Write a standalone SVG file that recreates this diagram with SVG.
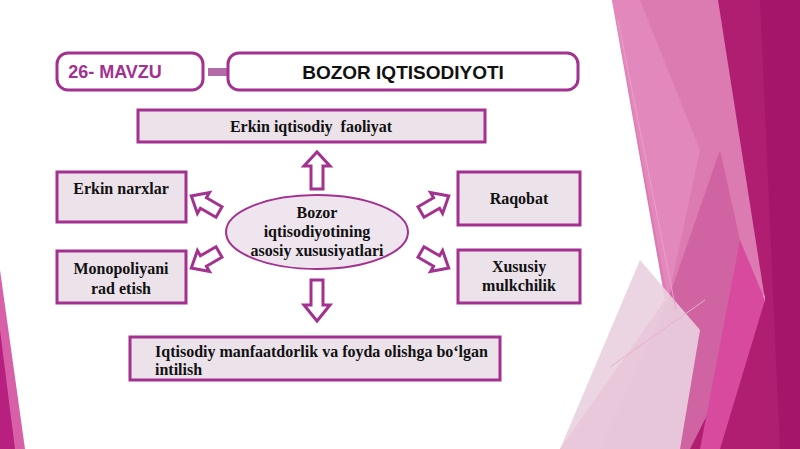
<svg xmlns="http://www.w3.org/2000/svg" width="800" height="449" viewBox="0 0 800 449">
<style>
.box{fill:#ece2ea;stroke:#a2318f;stroke-width:3}
.hdr{fill:#fff;stroke:#a2318f;stroke-width:3}
.t{font-family:'Liberation Serif','Times New Roman',serif;font-weight:bold;font-size:16px;fill:#111}
.ar{fill:#fff;stroke:#a2318f;stroke-width:3;stroke-linejoin:miter}
</style>
<rect width="800" height="449" fill="#fff"/>
<g id="decor">
<polygon points="612,0 720,0 770,280 700,449 560,449 665,300" fill="#dc7ab2"/>
<polygon points="612,0 640,0 700,150 668,300" fill="#e48cbe" opacity="0.8"/>
<polygon points="668,300 720,150 760,330 700,449 600,449" fill="#d064a2"/>
<polygon points="640,260 700,330 680,449 560,449" fill="#ead0e0" opacity="0.9"/>
<polygon points="718,0 800,0 800,449 690,449 765,300" fill="#b01e72"/>
<polygon points="760,0 800,0 800,449 780,449" fill="#a5156a"/>
<polygon points="740,240 765,300 720,449 700,449" fill="#d84a9e"/>
<line x1="618" y1="20" x2="676" y2="310" stroke="#e8a0c8" stroke-width="1"/>
<line x1="610" y1="367" x2="705" y2="300" stroke="#e8b0c8" stroke-width="1"/>
<polygon points="0,270 25,449 0,449" fill="#d860a8"/>
<polygon points="0,330 15,449 0,449" fill="#b82080"/>
</g>
<g id="header">
<rect x="208" y="68" width="22" height="8" fill="#b46aa6"/>
<rect x="57" y="53" width="146" height="37" rx="11" class="hdr"/>
<text x="115" y="78" text-anchor="middle" font-family="Liberation Sans,sans-serif" font-weight="bold" font-size="18" fill="#a2318f">26- MAVZU</text>
<rect x="228" y="53" width="350" height="37" rx="11" class="hdr"/>
<text x="403" y="79" text-anchor="middle" font-family="Liberation Sans,sans-serif" font-weight="bold" font-size="19" fill="#111">BOZOR IQTISODIYOTI</text>
</g>
<g id="top"><rect x="138" y="110" width="347" height="32" class="box"/><text x="311" y="132" text-anchor="middle" class="t" xml:space="preserve">Erkin iqtisodiy  faoliyat</text></g>
<g id="narxlar"><rect x="57" y="172" width="129" height="50" class="box"/><text x="121" y="194" text-anchor="middle" class="t">Erkin narxlar</text></g>
<g id="monopoliya"><rect x="57" y="251" width="129" height="52" class="box"/><text x="121" y="274" text-anchor="middle" class="t">Monopoliyani</text><text x="121" y="294" text-anchor="middle" class="t">rad etish</text></g>
<g id="raqobat"><rect x="458" y="172" width="122" height="53" class="box"/><text x="519" y="204" text-anchor="middle" class="t">Raqobat</text></g>
<g id="xususiy"><rect x="458" y="250" width="122" height="53" class="box"/><text x="519" y="272" text-anchor="middle" class="t">Xususiy</text><text x="519" y="291" text-anchor="middle" class="t">mulkchilik</text></g>
<g id="bottom"><rect x="130" y="337" width="370" height="43" class="box"/><text x="155" y="357" class="t">Iqtisodiy manfaatdorlik va foyda olishga bo‘lgan</text><text x="155" y="375" class="t">intilish</text></g>
<g id="center"><ellipse cx="317" cy="232" rx="91" ry="37" fill="#efe5ee" stroke="#a2318f" stroke-width="2"/>
<text x="317" y="218" text-anchor="middle" class="t">Bozor</text><text x="317" y="237" text-anchor="middle" class="t">iqtisodiyotining</text><text x="317" y="256" text-anchor="middle" class="t">asosiy xususiyatlari</text></g>
<g id="connectors">
<polygon class="ar" points="311,189 311,166 304,166 317,152 330,166 323,166 323,189"/>
<polygon class="ar" points="311,280 311,305 304,305 317,321 330,305 323,305 323,280"/>
<polygon class="ar" points="0,-6 -18,-6 -18,-12 -32,0 -18,12 -18,6 0,6" transform="translate(219,212) rotate(30)"/>
<polygon class="ar" points="0,-6 -18,-6 -18,-12 -32,0 -18,12 -18,6 0,6" transform="translate(219,252) rotate(-30)"/>
<polygon class="ar" points="0,-6 18,-6 18,-12 32,0 18,12 18,6 0,6" transform="translate(421,212) rotate(-30)"/>
<polygon class="ar" points="0,-6 18,-6 18,-12 32,0 18,12 18,6 0,6" transform="translate(421,252) rotate(30)"/>
</g>
</svg>
